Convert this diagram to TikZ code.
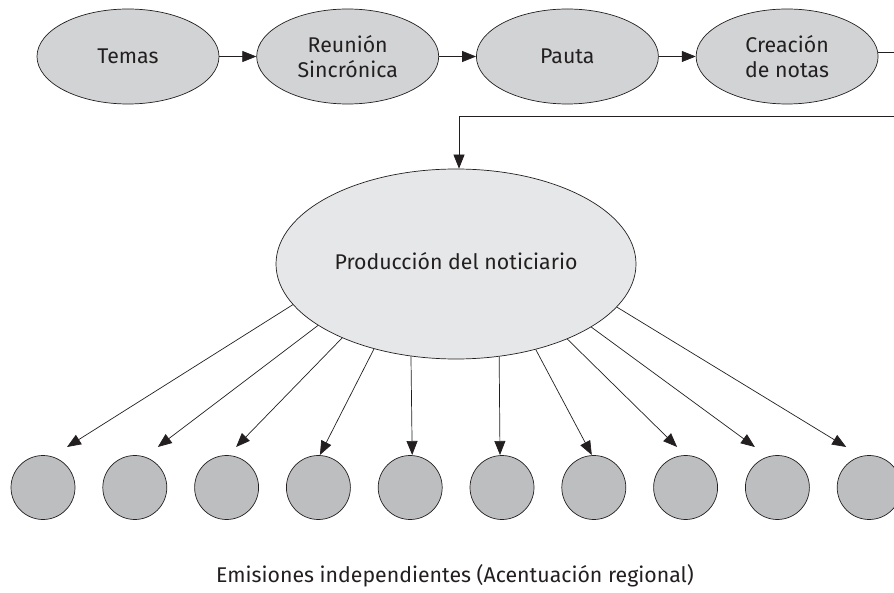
\documentclass[tikz,border=0pt]{standalone}
\usepackage{fontspec}
\setmainfont{Fira Sans}
\usetikzlibrary{shapes.geometric, positioning, arrows.meta}
\definecolor{linea}{HTML}{231F20}
\definecolor{gris}{HTML}{D1D3D4}
\definecolor{grisclaro}{HTML}{E6E7E8}
\definecolor{grisoscuro}{HTML}{BCBEC0}

\begin{document}
\begin{tikzpicture}[x = 1pt, y = -1pt, node distance = 37pt,
    every node/.style = {font = \fontsize{21.3}{25}\selectfont, text = linea},
    etapa/.style = {shape = ellipse, draw = linea, fill = gris, line width = 0.7pt,
        minimum width = 182pt, minimum height = 95pt, inner sep = 0pt, align = center},
    emision/.style = {shape = circle, draw = linea, fill = grisoscuro, line width = 0.7pt,
        minimum size = 64pt, inner sep = 0pt},
    flecha/.style = {draw = linea, line width = 0.7pt, -{Triangle[length = 14pt, width = 11pt]}}]
    \useasboundingbox (0,0) rectangle (894,593);
    \clip (0,0) rectangle (894,593);
    \node[etapa] (temas) at (128,56.5) {Temas};
    \node[etapa, right = of temas] (reunion) {Reunión\\Sincrónica};
    \node[etapa, right = of reunion] (pauta) {Pauta};
    \node[etapa, right = of pauta] (creacion) {Creación\\de notas};
    \node[etapa, fill = grisclaro, minimum width = 360pt, minimum height = 190pt]
        (produccion) at (456,264) {\raisebox{7pt}{Producción del noticiario}};
    \foreach \i in {1,...,10}
        \node[emision] (c\i) at ({43 + 91.8*(\i - 1)},487.5) {};
    \node (emisiones) at (455,576) {Emisiones independientes (Acentuación regional)};
    \coordinate (vuelta) at (930,116);
    \draw[flecha] (temas) -- (reunion);
    \draw[flecha] (reunion) -- (pauta);
    \draw[flecha] (pauta) -- (creacion);
    \draw[flecha] ([yshift = 4pt]creacion.east) -| (vuelta) -| ([xshift = 3pt]produccion.north);
    \foreach \a/\dx/\dy [count = \i] in {194.4/24/-40.5, 204.5/23/-40.5, 213.6/9.5/-40.5,
        226.7/1.5/-32.5, 244.7/2/-32.5, 295.3/-2/-32.5, 313.6/-2/-32.5,
        326.2/-8.5/-40.5, 335.5/-22.5/-40.5, 345.9/-23/-40.5}
        \draw[flecha] (produccion.\a) -- ([shift = {(\dx,\dy)}]c\i.center);
\end{tikzpicture}
\end{document}
